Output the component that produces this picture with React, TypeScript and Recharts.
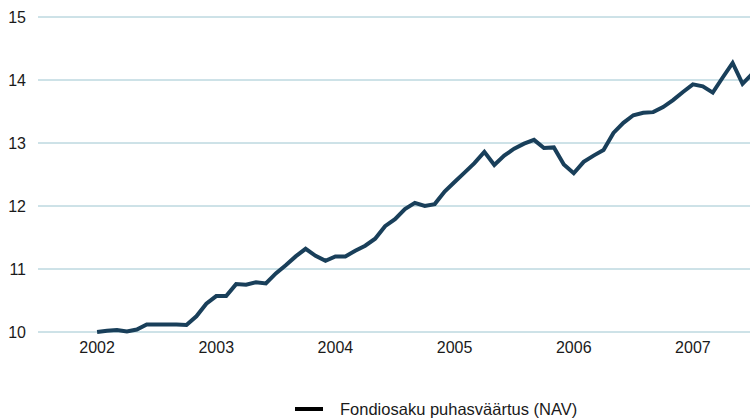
import React from "react";
import { LineChart, Line, XAxis, YAxis, CartesianGrid } from "recharts";

const years = ["2002", "2003", "2004", "2005", "2006", "2007"];
const monthsPerYear = 12;
const navValues = [
  10.0, 10.02, 10.03, 10.01, 10.04, 10.12, 10.12, 10.12, 10.12, 10.11, 10.25, 10.45,
  10.57, 10.57, 10.76, 10.75, 10.79, 10.77, 10.93, 11.06, 11.2, 11.32, 11.21, 11.13,
  11.2, 11.2, 11.29, 11.37, 11.48, 11.68, 11.79, 11.95, 12.05, 12.0, 12.03, 12.23,
  12.38, 12.53, 12.68, 12.86, 12.65, 12.8, 12.91, 12.99, 13.05, 12.92, 12.93, 12.66,
  12.52, 12.7, 12.8, 12.89, 13.16, 13.32, 13.44, 13.48, 13.49, 13.57, 13.68, 13.81,
  13.93, 13.9, 13.8, 14.04, 14.27, 13.94, 14.1,
];
const yTicks = [10, 11, 12, 13, 14, 15];
const seriesName = "Fondiosaku puhasväärtus (NAV)";

const data = navValues.map((v, i) => ({ m: i, nav: v }));
const xTicks = years.map((_, i) => i * monthsPerYear);

const FONT = "'Liberation Sans', Arial, sans-serif";

export default function App() {
  return (
    <div style={{ position: "absolute", left: 0, top: 0, width: 750, height: 418, fontFamily: FONT }}>
      <LineChart width={750} height={418} data={data} margin={{ top: 17, right: 0, bottom: 0, left: 0 }}>
        <CartesianGrid vertical={false} stroke="#9cc5d0" strokeWidth={1} />
        <XAxis
          dataKey="m"
          type="number"
          domain={[-5.95, 65.75]}
          allowDataOverflow
          ticks={xTicks}
          tickFormatter={(v: number) => years[Math.round(v / monthsPerYear)]}
          axisLine={false}
          tickLine={false}
          tickSize={0}
          tickMargin={10}
          height={86}
          tick={{ fill: "#1a1a1a", fontSize: 16, fontFamily: FONT }}
        />
        <YAxis
          domain={[10, 15]}
          ticks={yTicks}
          axisLine={false}
          tickLine={false}
          tickSize={0}
          tickMargin={12}
          width={38}
          tick={{ fill: "#1a1a1a", fontSize: 16, fontFamily: FONT }}
        />
        <Line
          type="linear"
          dataKey="nav"
          name={seriesName}
          stroke="#193f5a"
          strokeWidth={4}
          dot={false}
          isAnimationActive={false}
        />
      </LineChart>
      <div style={{ position: "absolute", left: 295, top: 399, display: "flex", alignItems: "center", height: 20 }}>
        <div style={{ width: 28, height: 4, background: "#000" }} />
        <span style={{ marginLeft: 17, fontSize: 16.5, color: "#1a1a1a", fontFamily: FONT, whiteSpace: "nowrap" }}>{seriesName}</span>
      </div>
    </div>
  );
}
